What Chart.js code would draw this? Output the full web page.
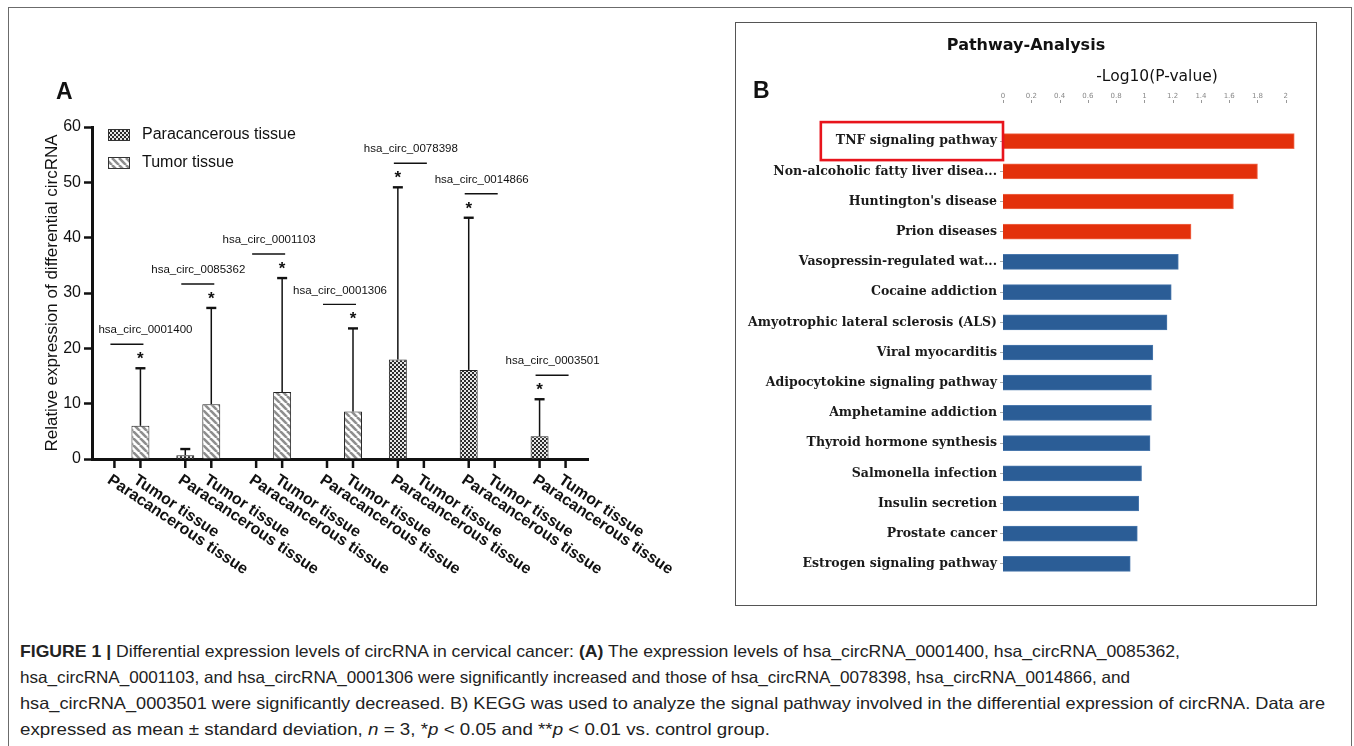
<!DOCTYPE html>
<html>
<head>
<meta charset="utf-8">
<script src="https://cdn.jsdelivr.net/npm/chart.js@4.4.1/dist/chart.umd.min.js"></script>
<style>
  html, body { margin: 0; padding: 0; background: #fff; width: 1354px; height: 746px; overflow: hidden; }
  #frame { position: absolute; left: 8px; top: 7px; width: 1344px; height: 800px; border: 1.5px solid #6b6b6b; box-sizing: border-box; }
  #boxB { position: absolute; left: 735px; top: 22px; width: 582px; height: 584px; border: 1.5px solid #555; box-sizing: border-box; }
  #chartA { position: absolute; left: 0; top: 60px; }
  #chartB { position: absolute; left: 737px; top: 24px; }
  .tag { position: absolute; font: bold 23px "Liberation Sans", Arial, sans-serif; color: #111; line-height: 1; }
  #titleB { position: absolute; left: 926px; width: 200px; top: 35px; text-align: center; font: bold 16px "DejaVu Sans", sans-serif; color: #111; }
  #axisB { position: absolute; left: 1057px; width: 200px; top: 67px; text-align: center; font: 15.5px "DejaVu Sans", sans-serif; color: #111; }
  #caption { position: absolute; left: 20px; top: 640px; font: 16.5px "Liberation Sans", Arial, sans-serif; color: #222; }
  #caption div { white-space: nowrap; height: 26px; line-height: 22px; transform-origin: 0 0; }
  #caption span.ln { display: inline-block; transform-origin: 0 0; }
</style>
</head>
<body>
<div id="frame"></div>
<div id="boxB"></div>
<canvas id="chartA" width="720" height="540"></canvas>
<canvas id="chartB" width="577" height="579"></canvas>
<div class="tag" style="left:56px;top:80px;">A</div>
<div class="tag" style="left:753px;top:79px;">B</div>
<div id="titleB">Pathway-Analysis</div>
<div id="axisB">-Log10(P-value)</div>
<div id="caption">
  <div><span class="ln" data-w="1160"><b>FIGURE 1 |</b> Differential expression levels of circRNA in cervical cancer: <b>(A)</b> The expression levels of hsa_circRNA_0001400, hsa_circRNA_0085362,</span></div>
  <div><span class="ln" data-w="1110">hsa_circRNA_0001103, and hsa_circRNA_0001306 were significantly increased and those of hsa_circRNA_0078398, hsa_circRNA_0014866, and</span></div>
  <div><span class="ln" data-w="1305">hsa_circRNA_0003501 were significantly decreased. B) KEGG was used to analyze the signal pathway involved in the differential expression of circRNA. Data are</span></div>
  <div><span class="ln" data-w="750">expressed as mean ± standard deviation, <i>n</i> = 3, *<i>p</i> &lt; 0.05 and **<i>p</i> &lt; 0.01 vs. control group.</span></div>
</div>
<script>
// ---- panel A data ----
const circNames = ['hsa_circ_0001400', 'hsa_circ_0085362', 'hsa_circ_0001103', 'hsa_circ_0001306',
                   'hsa_circ_0078398', 'hsa_circ_0014866', 'hsa_circ_0003501'];
const tissueLabels = ['Paracancerous tissue', 'Tumor tissue'];
const paraMean  = [0, 0.7, 0, 0, 18.0, 16.1, 4.1];
const paraSd    = [0, 1.1, 0, 0, 31.1, 27.5, 6.7];
const tumorMean = [6.0, 9.9, 12.1, 8.6, 0, 0, 0];
const tumorSd   = [10.4, 17.4, 20.6, 15.0, 0, 0, 0];
const yTicksA = [0, 10, 20, 30, 40, 50, 60];

// ---- panel B data ----
const pathways = ['TNF signaling pathway', 'Non-alcoholic fatty liver disea...', "Huntington's disease", 'Prion diseases',
                  'Vasopressin-regulated wat...', 'Cocaine addiction', 'Amyotrophic lateral sclerosis (ALS)',
                  'Viral myocarditis', 'Adipocytokine signaling pathway', 'Amphetamine addiction',
                  'Thyroid hormone synthesis', 'Salmonella infection', 'Insulin secretion', 'Prostate cancer',
                  'Estrogen signaling pathway'];
const negLog10P = [2.06, 1.80, 1.63, 1.33, 1.24, 1.19, 1.16, 1.06, 1.05, 1.05, 1.04, 0.98, 0.96, 0.95, 0.90];
const xTicksB = [0, 0.2, 0.4, 0.6, 0.8, 1, 1.2, 1.4, 1.6, 1.8, 2];
const highlighted = 4;

const ARIAL = '"Liberation Sans", Arial, sans-serif';

function checkerPattern() {
  const c = document.createElement('canvas');
  c.width = 4; c.height = 4;
  const g = c.getContext('2d');
  g.fillStyle = '#e6e6e6';
  g.fillRect(0, 0, 4, 4);
  g.fillStyle = '#2b2b2b';
  g.fillRect(0, 0, 2, 2);
  g.fillRect(2, 2, 2, 2);
  return g.createPattern(c, 'repeat');
}

function stripePattern() {
  const s = 7;
  const c = document.createElement('canvas');
  c.width = s; c.height = s;
  const g = c.getContext('2d');
  g.fillStyle = '#fff';
  g.fillRect(0, 0, s, s);
  g.strokeStyle = '#8e8e8e';
  g.lineWidth = 2.6;
  for (const o of [-s, 0, s]) {
    g.beginPath();
    g.moveTo(o, 0);
    g.lineTo(o + s, s);
    g.stroke();
  }
  return g.createPattern(c, 'repeat');
}

const fills = [checkerPattern(), stripePattern()];

// error bars, significance lines, per-bar ticks and labels, legend
const panelADecor = {
  id: 'panelADecor',
  afterDatasetsDraw(chart) {
    const { ctx, scales: { x, y }, chartArea } = chart;
    ctx.save();
    ctx.strokeStyle = '#111';
    ctx.fillStyle = '#111';

    // error bars (upper only)
    chart.data.datasets.forEach((ds, di) => {
      chart.getDatasetMeta(di).data.forEach((bar, i) => {
        const sd = ds.sd[i];
        if (!sd) return;
        const top = y.getPixelForValue(ds.data[i] + sd);
        ctx.lineWidth = 1.5;
        ctx.beginPath();
        ctx.moveTo(bar.x, bar.y);
        ctx.lineTo(bar.x, top);
        ctx.stroke();
        ctx.lineWidth = 2.4;
        ctx.beginPath();
        ctx.moveTo(bar.x - 5, top);
        ctx.lineTo(bar.x + 5, top);
        ctx.stroke();
      });
    });

    // significance marks
    const pm = chart.getDatasetMeta(0), tm = chart.getDatasetMeta(1);
    circNames.forEach((name, i) => {
      const peakVal = Math.max(paraMean[i] + paraSd[i], tumorMean[i] + tumorSd[i]);
      const peak = y.getPixelForValue(peakVal);
      const sigBar = tumorMean[i] > paraMean[i] ? tm.data[i] : pm.data[i];
      const cx = (pm.data[i].x + tm.data[i].x) / 2;

      ctx.font = 'bold 17px ' + ARIAL;
      ctx.textAlign = 'center';
      ctx.textBaseline = 'alphabetic';
      ctx.fillText('*', sigBar.x, peak - 4);

      const ly = peak - 24;
      ctx.lineWidth = 1.4;
      ctx.beginPath();
      ctx.moveTo(cx - 17, ly);
      ctx.lineTo(cx + 16, ly);
      ctx.stroke();

      ctx.font = '11.5px ' + ARIAL;
      ctx.textBaseline = 'middle';
      ctx.fillText(name, cx + (i === 0 ? 18 : 0), ly - 14);
    });

    // per-bar ticks and rotated labels
    const bottom = chartArea.bottom;
    [pm, tm].forEach((meta, di) => {
      meta.data.forEach(bar => {
        ctx.lineWidth = 2.5;
        ctx.beginPath();
        ctx.moveTo(bar.x, bottom);
        ctx.lineTo(bar.x, bottom + 9);
        ctx.stroke();
        ctx.save();
        ctx.translate(bar.x - 1, bottom + 13);
        ctx.rotate(34 * Math.PI / 180);
        ctx.font = 'bold 16px ' + ARIAL;
        ctx.textAlign = 'left';
        ctx.textBaseline = 'top';
        ctx.fillText(tissueLabels[di], 0, 0);
        ctx.restore();
      });
    });

    // legend
    const lx = 108, ly0 = 69;
    tissueLabels.forEach((lab, di) => {
      const top = ly0 + di * 28;
      ctx.fillStyle = fills[di];
      ctx.fillRect(lx, top, 22, 12);
      ctx.lineWidth = 1;
      ctx.strokeStyle = '#333';
      ctx.strokeRect(lx + 0.5, top + 0.5, 21, 11);
      ctx.fillStyle = '#111';
      ctx.font = '16px ' + ARIAL;
      ctx.textAlign = 'left';
      ctx.textBaseline = 'middle';
      ctx.fillText(lab, 142, top + 6);
    });
    ctx.restore();
  }
};

new Chart(document.getElementById('chartA'), {
  type: 'bar',
  data: {
    labels: circNames,
    datasets: [
      { label: tissueLabels[0], data: paraMean, sd: paraSd, backgroundColor: fills[0], borderColor: '#222', borderWidth: 1 },
      { label: tissueLabels[1], data: tumorMean, sd: tumorSd, backgroundColor: fills[1], borderColor: '#222', borderWidth: 1 }
    ]
  },
  options: {
    responsive: false,
    animation: false,
    categoryPercentage: 0.734,
    barPercentage: 0.69,
    layout: { padding: { left: 0, right: 132, top: 67, bottom: 0 } },
    plugins: { legend: { display: false }, tooltip: { enabled: false } },
    scales: {
      x: {
        grid: { display: false },
        border: { display: true, color: '#111', width: 3 },
        ticks: { display: false },
        afterFit: s => { s.height = 141; }
      },
      y: {
        min: 0,
        max: 60,
        afterBuildTicks: s => { s.ticks = yTicksA.map(v => ({ value: v })); },
        grid: { drawOnChartArea: false, drawTicks: true, tickLength: 8, tickWidth: 2.5, color: '#111' },
        border: { display: true, color: '#111', width: 3 },
        ticks: { color: '#111', font: { family: ARIAL, size: 16 }, padding: 3 },
        title: {
          display: true,
          text: 'Relative expression of differential circRNA',
          color: '#111',
          font: { family: ARIAL, size: 17 },
          padding: { top: 42, bottom: 0 }
        },
        afterFit: s => { s.width = 92; }
      }
    }
  },
  plugins: [panelADecor]
});

// ---- panel B ----
const SERIF = '"DejaVu Serif", "Liberation Serif", serif';
const panelBDecor = {
  id: 'panelBDecor',
  afterDraw(chart) {
    const { ctx, scales: { x, y }, chartArea } = chart;
    ctx.save();
    // small tick marks under the top axis labels
    ctx.strokeStyle = '#999';
    ctx.lineWidth = 1;
    x.ticks.forEach(t => {
      const px = Math.round(x.getPixelForValue(t.value)) + 0.5;
      ctx.beginPath();
      ctx.moveTo(px, 76);
      ctx.lineTo(px, 79);
      ctx.stroke();
    });
    // red box around first pathway label
    ctx.font = 'bold 12.5px ' + SERIF;
    const w = ctx.measureText(pathways[0]).width;
    const cy = y.getPixelForValue(0);
    const right = chartArea.left;
    const left = right - w - 21;
    ctx.strokeStyle = '#e8141c';
    ctx.lineWidth = 2.6;
    ctx.strokeRect(left, cy - 19, right - left, 38);
    ctx.restore();
  }
};

new Chart(document.getElementById('chartB'), {
  type: 'bar',
  data: {
    labels: pathways,
    datasets: [{
      data: negLog10P,
      backgroundColor: c => c.dataIndex < highlighted ? '#e3300b' : '#2b5d96',
      borderColor: c => c.dataIndex < highlighted ? '#f06a4e' : '#4a78ad',
      borderWidth: 1,
      barThickness: 15,
      clip: false
    }]
  },
  options: {
    indexAxis: 'y',
    responsive: false,
    animation: false,
    layout: { padding: { left: 0, right: 26, top: 0, bottom: 24 } },
    plugins: { legend: { display: false }, tooltip: { enabled: false } },
    scales: {
      x: {
        position: 'top',
        min: 0,
        max: 2,
        afterBuildTicks: s => { s.ticks = xTicksB.map(v => ({ value: v })); },
        grid: { display: false, drawTicks: false },
        border: { display: false },
        ticks: {
          color: '#888',
          font: { family: '"DejaVu Sans", sans-serif', size: 7 },
          padding: 26,
          maxRotation: 0,
          callback: v => String(+v.toFixed(1))
        },
        afterFit: s => { s.height = 102; }
      },
      y: {
        grid: { drawOnChartArea: false, drawTicks: true, tickLength: 3, color: '#aaa', offset: false },
        border: { display: false },
        ticks: { color: '#1a1a1a', font: { family: SERIF, size: 12.5, weight: 'bold' }, padding: 3 },
        afterFit: s => { s.width = 266; }
      }
    }
  },
  plugins: [panelBDecor]
});

// fit each caption line to the reference line length
document.querySelectorAll('#caption span.ln').forEach(sp => {
  const target = +sp.dataset.w;
  const wNow = sp.getBoundingClientRect().width;
  sp.style.transform = 'scaleX(' + (target / wNow) + ')';
});
</script>
</body>
</html>
